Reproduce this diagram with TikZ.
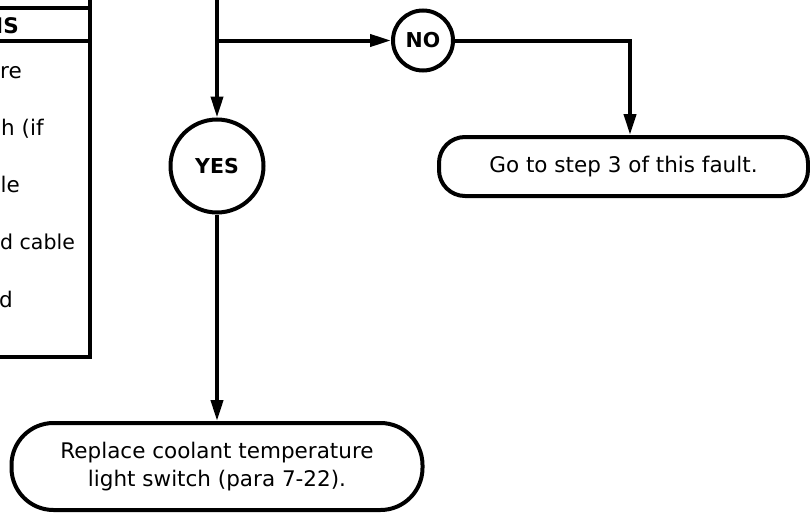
\documentclass[tikz,border=0pt]{standalone}
\usepackage{fontspec}
\setmainfont{DejaVu Sans}
\usetikzlibrary{arrows.meta}
\begin{document}
\begin{tikzpicture}[x=1pt,y=-1pt,
  every node/.style={inner sep=0pt, font=\fontsize{21.5}{28.5}\selectfont},
  flow/.style={line width=4pt},
  arr/.style={flow, -{Triangle[length=21pt,width=12pt]}},
  dot/.style={circle, draw, line width=4pt, font=\bfseries\fontsize{20.5}{24}\selectfont},
  term/.style={draw, line width=4pt, align=center},
  frag/.style={anchor=base east},
  fragw/.style={anchor=base west}]
\useasboundingbox (0,0) rectangle (810,514);
\clip (0,0) rectangle (810,514);
% left table (partly outside the picture)
\draw[line width=4pt] (0,8) -- (89.5,8);
\draw[line width=4pt] (0,41) -- (89.5,41);
\draw[line width=4pt] (0,357) -- (89.5,357);
\draw[line width=4pt] (89.5,0) -- (89.5,359);
\node[frag, font=\bfseries\fontsize{21.5}{28.5}\selectfont] (hdr) at (19,33) {MS};
\node[fragw] (r1) at (0,78) {re};
\node[fragw] (r2) at (1,135) {h (if};
\node[frag] (r3) at (20,192) {ble};
\node[fragw, font=\fontsize{20.5}{28.5}\selectfont] (r4) at (0,249) {d cable};
\node[frag] (r5) at (13,307) {rd};
% flow chart
\coordinate (top) at (217,0);
\coordinate (split) at (217,40.5);
\node[dot, minimum size=93pt] (yes) at (217,166) {YES};
\node[dot, minimum size=60pt] (no) at (423,40.5) {NO};
\node[term, rounded corners=26pt, minimum width=369pt, minimum height=59pt] (go) at (623.5,166.5) {Go to step 3 of this fault.};
\node[term, rounded corners=42pt, minimum width=411pt, minimum height=87pt] (rep) at (217,466.5) {Replace coolant temperature\\light switch (para 7-22).};
\coordinate (turn) at (630,40.5);
\draw[arr] (top) -- (yes.north);
\draw[arr] (split) -- (no.west);
\draw[arr] (no.east) -- (turn) -- (turn |- go.north);
\draw[arr] (yes.south) -- (rep.north);
\end{tikzpicture}
\end{document}
